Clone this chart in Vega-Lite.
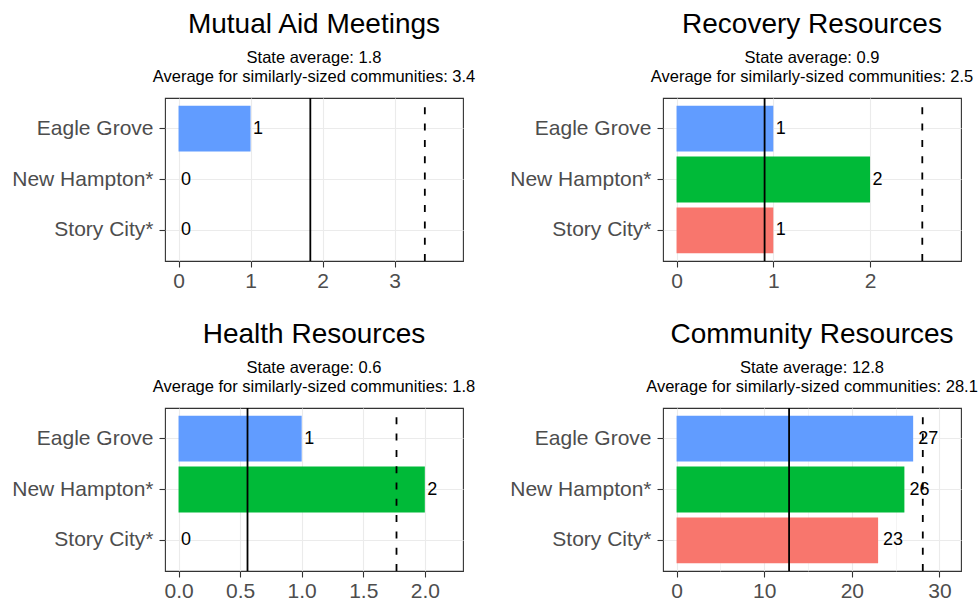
{
  "$schema": "https://vega.github.io/schema/vega-lite/v6.json",
  "background": "white",
  "padding": {"left": 11, "top": 10, "right": 0, "bottom": 0},
  "columns": 2,
  "spacing": {"row": 28, "column": 33},
  "datasets": {
    "bars": [
      {"panel": "Mutual Aid Meetings", "town": "Eagle Grove", "value": 1},
      {"panel": "Mutual Aid Meetings", "town": "New Hampton*", "value": 0},
      {"panel": "Mutual Aid Meetings", "town": "Story City*", "value": 0},
      {"panel": "Recovery Resources", "town": "Eagle Grove", "value": 1},
      {"panel": "Recovery Resources", "town": "New Hampton*", "value": 2},
      {"panel": "Recovery Resources", "town": "Story City*", "value": 1},
      {"panel": "Health Resources", "town": "Eagle Grove", "value": 1},
      {"panel": "Health Resources", "town": "New Hampton*", "value": 2},
      {"panel": "Health Resources", "town": "Story City*", "value": 0},
      {"panel": "Community Resources", "town": "Eagle Grove", "value": 27},
      {"panel": "Community Resources", "town": "New Hampton*", "value": 26},
      {"panel": "Community Resources", "town": "Story City*", "value": 23}
    ],
    "avgs": [
      {"panel": "Mutual Aid Meetings", "state": 1.83, "similar": 3.42},
      {"panel": "Recovery Resources", "state": 0.91, "similar": 2.54},
      {"panel": "Health Resources", "state": 0.56, "similar": 1.77},
      {"panel": "Community Resources", "state": 12.84, "similar": 28.1}
    ]
  },
  "config": {
    "font": "Liberation Sans",
    "view": {"stroke": "#333333", "strokeWidth": 1.1},
    "axis": {
      "labelFont": "Liberation Sans",
      "labelFontSize": 21,
      "labelColor": "#4D4D4D",
      "tickColor": "#333333",
      "tickSize": 6,
      "tickWidth": 1.1,
      "domain": false,
      "gridColor": "#EBEBEB",
      "gridWidth": 1.1,
      "title": null,
      "labelFlush": false,
      "labelOverlap": false
    },
    "axisY": {"labelPadding": 6},
    "axisX": {"labelPadding": 3},
    "title": {
      "font": "Liberation Sans",
      "fontSize": 28,
      "fontWeight": "normal",
      "color": "black",
      "subtitleFont": "Liberation Sans",
      "subtitleFontSize": 16.5,
      "subtitleColor": "black",
      "subtitleLineHeight": 18.3,
      "subtitlePadding": 11.4,
      "anchor": "middle",
      "frame": "group",
      "offset": 12
    }
  },
  "resolve": {"scale": {"x": "independent", "y": "independent"}},
  "concat": [
    {
      "width": 298, "height": 163,
      "title": {"text": "Mutual Aid Meetings", "subtitle": ["State average: 1.8", "Average for similarly-sized communities: 3.4"]},
      "layer": [
        {
          "data": {"name": "bars"},
          "transform": [{"filter": "datum.panel == 'Mutual Aid Meetings'"}],
          "mark": {"type": "bar"},
          "encoding": {
            "y": {"field": "town", "type": "nominal", "sort": ["Eagle Grove", "New Hampton*", "Story City*"], "scale": {"paddingInner": 0.1, "paddingOuter": 0.15}, "axis": {"grid": true}},
            "x": {"field": "value", "type": "quantitative", "scale": {"domain": [-0.188, 3.95], "nice": false, "zero": false},
              "axis": {"values": [0, 0.5, 1, 1.5, 2, 2.5, 3, 3.5], "format": "d",
                "labelExpr": "datum.value % 1 == 0 ? datum.label : ''",
                "tickOpacity": {"condition": {"test": "datum.value % 1 == 0", "value": 1}, "value": 0},
                "gridWidth": {"condition": {"test": "datum.value % 1 == 0", "value": 1.1}, "value": 0.55}}},
            "color": {"field": "town", "type": "nominal", "scale": {"domain": ["Eagle Grove", "New Hampton*", "Story City*"], "range": ["#619CFF", "#00BA38", "#F8766D"]}, "legend": null}
          }
        },
        {
          "data": {"name": "bars"},
          "transform": [{"filter": "datum.panel == 'Mutual Aid Meetings'"}],
          "mark": {"type": "text", "align": "left", "baseline": "middle", "dx": 2.5, "fontSize": 18, "color": "black"},
          "encoding": {
            "y": {"field": "town", "type": "nominal", "sort": ["Eagle Grove", "New Hampton*", "Story City*"]},
            "x": {"field": "value", "type": "quantitative"},
            "text": {"field": "value", "type": "quantitative", "format": "d"}
          }
        },
        {
          "data": {"name": "avgs"},
          "transform": [{"filter": "datum.panel == 'Mutual Aid Meetings'"}],
          "mark": {"type": "rule", "color": "black", "strokeWidth": 1.8},
          "encoding": {"x": {"field": "state", "type": "quantitative"}}
        },
        {
          "data": {"name": "avgs"},
          "transform": [{"filter": "datum.panel == 'Mutual Aid Meetings'"}],
          "mark": {"type": "rule", "color": "black", "strokeWidth": 1.8, "strokeDash": [7, 9.3], "strokeDashOffset": 7},
          "encoding": {"x": {"field": "similar", "type": "quantitative"}}
        }
      ]
    },
    {
      "width": 298, "height": 163,
      "title": {"text": "Recovery Resources", "subtitle": ["State average: 0.9", "Average for similarly-sized communities: 2.5"]},
      "layer": [
        {
          "data": {"name": "bars"},
          "transform": [{"filter": "datum.panel == 'Recovery Resources'"}],
          "mark": {"type": "bar"},
          "encoding": {
            "y": {"field": "town", "type": "nominal", "sort": ["Eagle Grove", "New Hampton*", "Story City*"], "scale": {"paddingInner": 0.1, "paddingOuter": 0.15}, "axis": {"grid": true}},
            "x": {"field": "value", "type": "quantitative", "scale": {"domain": [-0.14, 2.94], "nice": false, "zero": false},
              "axis": {"values": [0, 0.5, 1, 1.5, 2, 2.5], "format": "d",
                "labelExpr": "datum.value % 1 == 0 ? datum.label : ''",
                "tickOpacity": {"condition": {"test": "datum.value % 1 == 0", "value": 1}, "value": 0},
                "gridWidth": {"condition": {"test": "datum.value % 1 == 0", "value": 1.1}, "value": 0.55}}},
            "color": {"field": "town", "type": "nominal", "scale": {"domain": ["Eagle Grove", "New Hampton*", "Story City*"], "range": ["#619CFF", "#00BA38", "#F8766D"]}, "legend": null}
          }
        },
        {
          "data": {"name": "bars"},
          "transform": [{"filter": "datum.panel == 'Recovery Resources'"}],
          "mark": {"type": "text", "align": "left", "baseline": "middle", "dx": 2.5, "fontSize": 18, "color": "black"},
          "encoding": {
            "y": {"field": "town", "type": "nominal", "sort": ["Eagle Grove", "New Hampton*", "Story City*"]},
            "x": {"field": "value", "type": "quantitative"},
            "text": {"field": "value", "type": "quantitative", "format": "d"}
          }
        },
        {
          "data": {"name": "avgs"},
          "transform": [{"filter": "datum.panel == 'Recovery Resources'"}],
          "mark": {"type": "rule", "color": "black", "strokeWidth": 1.8},
          "encoding": {"x": {"field": "state", "type": "quantitative"}}
        },
        {
          "data": {"name": "avgs"},
          "transform": [{"filter": "datum.panel == 'Recovery Resources'"}],
          "mark": {"type": "rule", "color": "black", "strokeWidth": 1.8, "strokeDash": [7, 9.3], "strokeDashOffset": 7},
          "encoding": {"x": {"field": "similar", "type": "quantitative"}}
        }
      ]
    },
    {
      "width": 298, "height": 163,
      "title": {"text": "Health Resources", "subtitle": ["State average: 0.6", "Average for similarly-sized communities: 1.8"]},
      "layer": [
        {
          "data": {"name": "bars"},
          "transform": [{"filter": "datum.panel == 'Health Resources'"}],
          "mark": {"type": "bar"},
          "encoding": {
            "y": {"field": "town", "type": "nominal", "sort": ["Eagle Grove", "New Hampton*", "Story City*"], "scale": {"paddingInner": 0.1, "paddingOuter": 0.15}, "axis": {"grid": true}},
            "x": {"field": "value", "type": "quantitative", "scale": {"domain": [-0.11, 2.31], "nice": false, "zero": false},
              "axis": {"values": [0, 0.25, 0.5, 0.75, 1, 1.25, 1.5, 1.75, 2, 2.25], "format": ".1f",
                "labelExpr": "round(datum.value * 4) % 2 == 0 ? datum.label : ''",
                "tickOpacity": {"condition": {"test": "round(datum.value * 4) % 2 == 0", "value": 1}, "value": 0},
                "gridWidth": {"condition": {"test": "round(datum.value * 4) % 2 == 0", "value": 1.1}, "value": 0.55}}},
            "color": {"field": "town", "type": "nominal", "scale": {"domain": ["Eagle Grove", "New Hampton*", "Story City*"], "range": ["#619CFF", "#00BA38", "#F8766D"]}, "legend": null}
          }
        },
        {
          "data": {"name": "bars"},
          "transform": [{"filter": "datum.panel == 'Health Resources'"}],
          "mark": {"type": "text", "align": "left", "baseline": "middle", "dx": 2.5, "fontSize": 18, "color": "black"},
          "encoding": {
            "y": {"field": "town", "type": "nominal", "sort": ["Eagle Grove", "New Hampton*", "Story City*"]},
            "x": {"field": "value", "type": "quantitative"},
            "text": {"field": "value", "type": "quantitative", "format": "d"}
          }
        },
        {
          "data": {"name": "avgs"},
          "transform": [{"filter": "datum.panel == 'Health Resources'"}],
          "mark": {"type": "rule", "color": "black", "strokeWidth": 1.8},
          "encoding": {"x": {"field": "state", "type": "quantitative"}}
        },
        {
          "data": {"name": "avgs"},
          "transform": [{"filter": "datum.panel == 'Health Resources'"}],
          "mark": {"type": "rule", "color": "black", "strokeWidth": 1.8, "strokeDash": [7, 9.3], "strokeDashOffset": 7},
          "encoding": {"x": {"field": "similar", "type": "quantitative"}}
        }
      ]
    },
    {
      "width": 298, "height": 163,
      "title": {"text": "Community Resources", "subtitle": ["State average: 12.8", "Average for similarly-sized communities: 28.1"]},
      "layer": [
        {
          "data": {"name": "bars"},
          "transform": [{"filter": "datum.panel == 'Community Resources'"}],
          "mark": {"type": "bar"},
          "encoding": {
            "y": {"field": "town", "type": "nominal", "sort": ["Eagle Grove", "New Hampton*", "Story City*"], "scale": {"paddingInner": 0.1, "paddingOuter": 0.15}, "axis": {"grid": true}},
            "x": {"field": "value", "type": "quantitative", "scale": {"domain": [-1.55, 32.46], "nice": false, "zero": false},
              "axis": {"values": [0, 5, 10, 15, 20, 25, 30], "format": "d",
                "labelExpr": "datum.value % 10 == 0 ? datum.label : ''",
                "tickOpacity": {"condition": {"test": "datum.value % 10 == 0", "value": 1}, "value": 0},
                "gridWidth": {"condition": {"test": "datum.value % 10 == 0", "value": 1.1}, "value": 0.55}}},
            "color": {"field": "town", "type": "nominal", "scale": {"domain": ["Eagle Grove", "New Hampton*", "Story City*"], "range": ["#619CFF", "#00BA38", "#F8766D"]}, "legend": null}
          }
        },
        {
          "data": {"name": "bars"},
          "transform": [{"filter": "datum.panel == 'Community Resources'"}],
          "mark": {"type": "text", "align": "left", "baseline": "middle", "dx": 5, "fontSize": 18, "color": "black"},
          "encoding": {
            "y": {"field": "town", "type": "nominal", "sort": ["Eagle Grove", "New Hampton*", "Story City*"]},
            "x": {"field": "value", "type": "quantitative"},
            "text": {"field": "value", "type": "quantitative", "format": "d"}
          }
        },
        {
          "data": {"name": "avgs"},
          "transform": [{"filter": "datum.panel == 'Community Resources'"}],
          "mark": {"type": "rule", "color": "black", "strokeWidth": 1.8},
          "encoding": {"x": {"field": "state", "type": "quantitative"}}
        },
        {
          "data": {"name": "avgs"},
          "transform": [{"filter": "datum.panel == 'Community Resources'"}],
          "mark": {"type": "rule", "color": "black", "strokeWidth": 1.8, "strokeDash": [7, 9.3], "strokeDashOffset": 7},
          "encoding": {"x": {"field": "similar", "type": "quantitative"}}
        }
      ]
    }
  ]
}
